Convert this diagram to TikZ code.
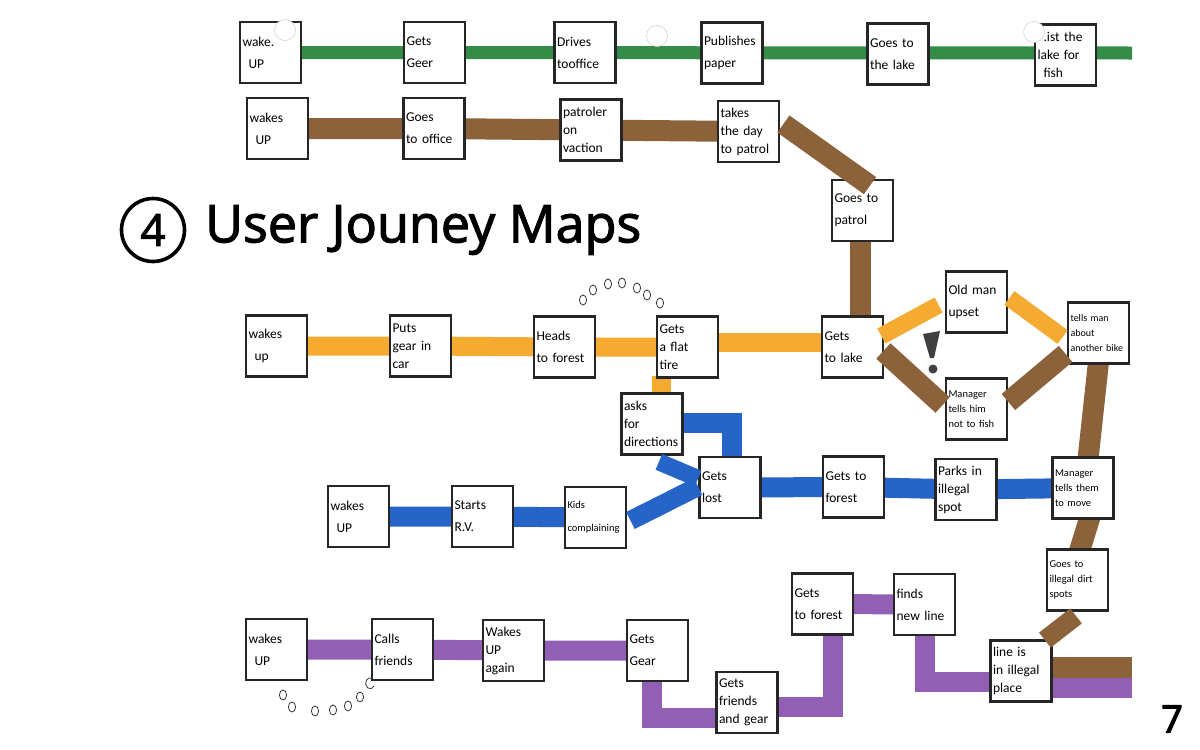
\documentclass[tikz,border=0pt]{standalone}
\usepackage{fontspec}
\setmainfont{Carlito}
\newfontfamily\titlefont{Open Sans}[FakeBold=2.2]
\newfontfamily\numfont{Open Sans}[FakeBold=3]
\usetikzlibrary{calc,backgrounds}
\definecolor{mgreen}{RGB}{52,140,72}
\definecolor{mbrown}{RGB}{139,98,58}
\definecolor{morange}{RGB}{245,170,50}
\definecolor{mblue}{RGB}{38,100,200}
\definecolor{mpurple}{RGB}{145,95,180}
\begin{document}
\begin{tikzpicture}[x=1pt,y=-1pt,
  box/.style={draw=black!85,line width=2.8pt,fill=white,minimum width=61pt,minimum height=61pt,
    text width=56pt,inner xsep=2pt,inner ysep=3pt,align=left,font=\fontsize{13.5}{18}\selectfont},
  sbox/.style={box,font=\fontsize{10.5}{15}\selectfont},
  gbar/.style={mgreen,line width=13pt},
  brbar/.style={mbrown,line width=21pt},
  obar/.style={morange,line width=19pt},
  blbar/.style={mblue,line width=20pt},
  pbar/.style={mpurple,line width=20pt},
  hole/.style={circle,draw=gray!35,line width=0.6pt,fill=white,minimum size=21pt,inner sep=0pt},
  bubble/.style={line width=0.8pt,black!80}]
\useasboundingbox (0,0) rectangle (1200,750);
% green journey
\node[box] (G1) at (270.5,52.5) {wake.\\[4pt] \hspace*{6pt}UP};
\node[box] (G2) at (434.5,52.5) {Gets\\[4pt] Geer};
\node[box] (G3) at (585,52.5) {Drives\\[4pt] tooffice};
\node[box] (G4) at (732,53) {Publishes\\[4pt] paper};
\node[box] (G5) at (898,54) {Goes to\\[4pt] the lake};
\node[box] (G6) at (1065.5,55) {\hspace*{6pt}.ist the\\ lake for\\ \hspace*{6pt}fish};
\coordinate (gend) at (1132,53);
% brown journey
\node[box] (B1) at (277.5,128.5) {wakes\\[4pt] \hspace*{6pt}UP};
\node[box] (B2) at (434,128.5) {Goes\\[4pt] to office};
\node[box] (B3) at (591,130) {patroler\\ on\\ vaction};
\node[box] (B4) at (748.5,131.5) {takes\\ the day\\ to patrol};
\node[box] (B5) at (862.5,210.5) {Goes to\\[4pt] patrol};
% orange journey
\node[box] (O1) at (276.5,346) {wakes\\[4pt] \hspace*{6pt}up};
\node[box] (O2) at (420.5,346) {Puts\\ gear in\\ car};
\node[box] (O3) at (564.5,347) {Heads\\[4pt] to forest};
\node[box] (O4) at (687.5,347) {Gets\\ a flat\\ tire};
\node[box] (O5) at (852.5,347) {Gets\\[4pt] to lake};
\node[box] (OM) at (976.5,302) {Old man\\[4pt] upset};
\node[sbox] (MN) at (976.5,409) {Manager\\ tells him\\ not to fish};
\node[sbox,font=\fontsize{10}{15}\selectfont] (TM) at (1098.5,333) {tells man\\ about\\ another bike};
\node[box] (AD) at (652,424) {asks\\ for\\ directions};
% blue journey
\node[box] (BL1) at (358.5,516.5) {wakes\\[4pt] \hspace*{6pt}UP};
\node[box] (BL2) at (482.5,516.5) {Starts\\[4pt] R.V.};
\node[sbox] (BL3) at (595.5,517.5) {Kids\\[8pt] complaining};
\node[box] (GL) at (730,487.5) {Gets\\[4pt] lost};
\node[box] (GF) at (853.5,487) {Gets to\\[4pt] forest};
\node[box] (PK) at (966,489.5) {Parks in\\ illegal\\ spot};
\node[sbox] (MT) at (1083,488) {Manager\\ tells them\\ to move};
\node[sbox] (GI) at (1077.5,580) {Goes to\\ illegal dirt\\ spots};
% purple journey
\node[box] (P1) at (276.5,649.5) {wakes\\[4pt] \hspace*{6pt}UP};
\node[box] (P2) at (402.5,649.5) {Calls\\[4pt] friends};
\node[box] (P3) at (513.5,650.5) {Wakes\\ UP\\ again};
\node[box] (P4) at (657.5,650.5) {Gets\\[4pt] Gear};
\node[box] (FR) at (747,702.5) {Gets\\ friends\\ and gear};
\node[box] (FO) at (822.5,604) {Gets\\[4pt] to forest};
\node[box] (NL) at (924.5,604.5) {finds\\[4pt] new line};
\node[box] (LI) at (1021,671) {line is\\ in illegal\\ place};
\coordinate (bend) at (1132,667.5);
\coordinate (pend) at (1132,687.5);
% connectors behind boxes
\begin{pgfonlayer}{background}
\draw[gbar] (G1.center) -- (gend);
\draw[brbar] (B1.center) -- (B2.center) -- (B3.center) -- (B4.center);
\draw[brbar] ($(B5.south)+(-2,-5)$) -- ($(B5.south |- O5.north)+(-2,5)$);
\draw[brbar] ($(TM.south)+(0,-3)$) -- ($(MT.north)+(5,3)$);
\draw[brbar] ($(MT.south)+(7,-3)$) -- ($(GI.north)+(2,3)$);
\draw[brbar] (LI.east |- bend) -- (bend);
\draw[obar] (O1.center) -- (O2.center) -- (O3.center) -- (O4.center);
\draw[obar] ($(O4.east)+(-3,-5)$) -- ($(O5.west)+(3,-5)$);
\draw[obar] ($(AD.north)+(9,3)$) -- ($(AD.north |- O4.south)+(9,-3)$);
\draw[blbar] (BL1.center) -- (BL2.center) -- (BL3.center);
\draw[blbar] (GL.center) -- (GF.center) -- (PK.center) -- (MT.center);
\draw[blbar] ($(AD.east)+(-3,-1)$) -| ($(GL.north)+(1.5,3)$);
\draw[pbar] (P1.center) -- (P2.center) -- (P3.center) -- (P4.center);
\draw[pbar] ($(P4.south)+(-6,-3)$) |- ($(FR.west)+(3,15)$);
\draw[pbar] ($(FR.east)+(-3,4)$) -| ($(FO.south)+(10,-3)$);
\draw[pbar] (FO.center) -- (NL.center);
\draw[pbar] ($(NL.south)+(0,-3)$) |- ($(LI.west)+(3,11)$);
\draw[pbar] (LI.east |- pend) -- (pend);
\end{pgfonlayer}
% connectors laid over box edges
\draw[brbar] ($(B4.east)+(3,-7.5)$) -- ($(B5.north)+(7.5,7)$);
\draw[obar,line width=17pt] ($(O5.east)+(-3,-11)$) -- ($(OM.west)+(-6,3)$);
\draw[obar,line width=17pt] ($(OM.east)+(1,-4)$) -- ($(TM.west)+(-4,4)$);
\draw[brbar] ($(O5.east)+(-1,4)$) -- ($(MN.west)+(-2,-4)$);
\draw[brbar] ($(MN.east)+(0,-7)$) -- ($(TM.south west)+(-1,-11)$);
\draw[brbar,line width=19pt] ($(LI.north east)+(-8,1)$) -- ($(GI.south)+(-1.5,4)$);
\draw[blbar,line width=19pt] ($(BL3.east)+(3,3)$) -- ($(GL.west)+(0,-1)$);
\draw[blbar,line width=17pt] ($(AD.south east)+(-25,6)$) -- ($(GL.west)+(0,-9)$);
% hole punches
\node[hole] (h1) at (285,30) {};
\node[hole] (h2) at (657,36) {};
\node[hole] (h3) at (1034,32) {};
% exclamation mark
\fill[black!75] (923,334) -- (940,331) -- (934,358) -- (930,358) -- cycle;
\fill[black!75] (933,369) circle (4.5);
% bubbles
\foreach \x/\y in {583/300,593/290,608/284,622/283,637/288,647/295,660/303}
  \draw[bubble] (\x,\y) ellipse (3.6 and 5);
\foreach \x/\y in {283/695,292/707,315/711,333/710,348/706,360/697}
  \draw[bubble] (\x,\y) ellipse (3.6 and 5);
\draw[bubble] (374,686) arc (30:300:4.5 and 5.5);
% title
\node[circle,draw,line width=3.6pt,minimum size=63pt,inner sep=0pt] (c4) at (153,230) {\titlefont\fontsize{44}{50}\selectfont 4};
\node[anchor=west,inner sep=0pt] (title) at (205,230) {\titlefont\fontsize{52}{62}\selectfont User Jouney Maps};
\node[anchor=center,inner sep=0pt] (pg) at (1172,719) {\numfont\fontsize{38}{44}\selectfont 7};
\end{tikzpicture}
\end{document}
